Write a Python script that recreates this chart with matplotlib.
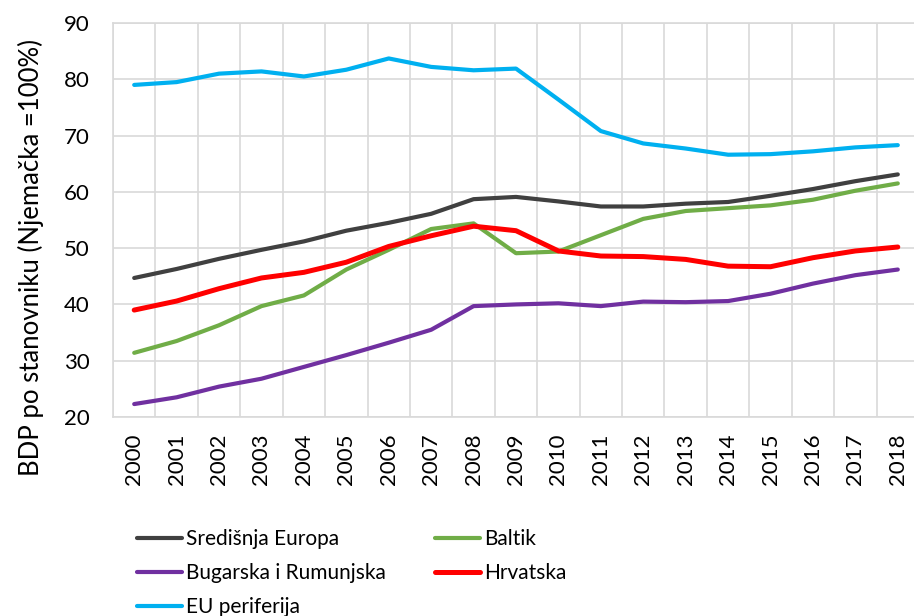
import matplotlib
matplotlib.use("Agg")
import matplotlib.pyplot as plt

years = [str(y) for y in range(2000, 2019)]
sredisnja = [44.7, 46.3, 48.1, 49.7, 51.2, 53.1, 54.5, 56.1, 58.7, 59.1,
             58.3, 57.4, 57.4, 57.9, 58.2, 59.3, 60.5, 61.9, 63.1]
baltik = [31.4, 33.5, 36.3, 39.7, 41.6, 46.2, 49.7, 53.4, 54.4, 49.1,
          49.4, 52.3, 55.2, 56.6, 57.1, 57.6, 58.6, 60.2, 61.5]
bug_rum = [22.3, 23.5, 25.4, 26.8, 28.9, 31.0, 33.2, 35.5, 39.7, 40.0,
           40.2, 39.7, 40.5, 40.4, 40.6, 41.9, 43.7, 45.2, 46.2]
hrvatska = [39.0, 40.6, 42.8, 44.7, 45.7, 47.5, 50.3, 52.2, 53.9, 53.1,
            49.5, 48.6, 48.5, 48.0, 46.8, 46.7, 48.3, 49.5, 50.2]
eu_per = [79.0, 79.5, 81.0, 81.4, 80.5, 81.7, 83.7, 82.2, 81.6, 81.9,
          76.4, 70.8, 68.6, 67.7, 66.6, 66.7, 67.2, 67.9, 68.3]

names = ["Središnja Europa", "Baltik", "Bugarska i Rumunjska", "Hrvatska", "EU periferija"]
colors = ["#404040", "#70AD47", "#7030A0", "#FF0000", "#00B0F0"]

plt.rcParams['font.family'] = ['Lato', 'DejaVu Sans']

fig = plt.figure(figsize=(9.14, 6.16), dpi=100)
ax = fig.add_axes([113/914, 1 - 417/616, 806/914, 394/616])

x = list(range(len(years)))
series = [sredisnja, baltik, bug_rum, hrvatska, eu_per]
widths = [3.0, 3.0, 3.0, 3.6, 3.0]
handles = {}
for n, s, c, w in zip(names, series, colors, widths):
    ln, = ax.plot(x, s, color=c, lw=w, solid_capstyle='round', zorder=3)
    handles[n] = ln

ax.set_ylim(20, 90)
ax.set_xlim(-0.5, len(years) - 0.5)
ax.set_yticks(range(20, 91, 10))
ax.set_xticks([i - 0.5 for i in range(len(years) + 1)], minor=False)
ax.set_xticklabels([])
ax.set_xticks(x, minor=True)
ax.set_xticklabels(years, minor=True, rotation=90, fontsize=16)
ax.tick_params(axis='x', which='both', length=0)
ax.tick_params(axis='x', which='minor', pad=12)
ax.tick_params(axis='y', length=0, labelsize=16, pad=17)
ax.grid(True, which='major', color='#D9D9D9', lw=1.2)
for sp in ax.spines.values():
    sp.set_color('#D9D9D9')
    sp.set_linewidth(1.2)
ax.set_ylabel("BDP po stanovniku (Njemačka =100%)", fontsize=18.5)
ax.yaxis.set_label_coords((44 - 113) / 806, (417 - 257) / 394)

leg_kw = dict(frameon=False, loc='upper left', fontsize=15, handlelength=2.15,
              handletextpad=0.2, labelspacing=0.67, borderaxespad=0, borderpad=0.4)
col1 = ["Središnja Europa", "Bugarska i Rumunjska", "EU periferija"]
col2 = ["Baltik", "Hrvatska"]
fs_px = 15 * 100 / 72
leg1 = fig.legend([handles[n] for n in col1], col1,
                  bbox_to_anchor=((137 - 0.4 * fs_px) / 914, 1 - 521 / 616), **leg_kw)
leg2 = fig.legend([handles[n] for n in col2], col2,
                  bbox_to_anchor=((435 - 0.4 * fs_px) / 914, 1 - 521 / 616), **leg_kw)

fig.savefig("out.png", dpi=100)
